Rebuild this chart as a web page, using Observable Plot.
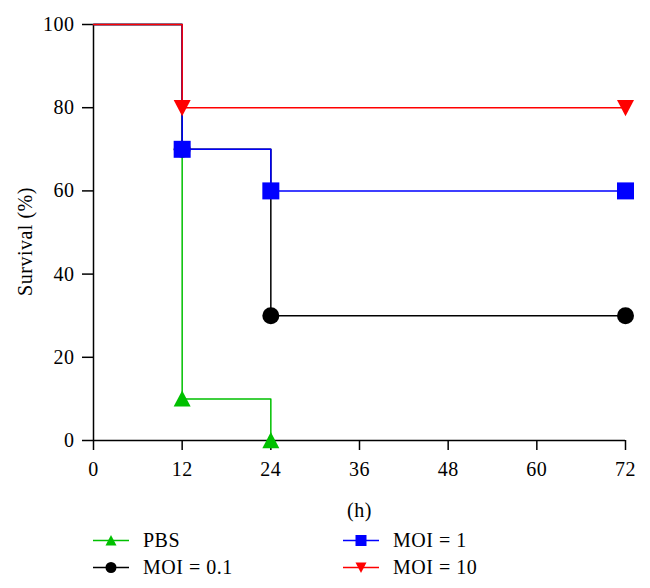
<!DOCTYPE html>
<html>
<head>
<meta charset="utf-8">
<script src="https://cdn.jsdelivr.net/npm/d3@7"></script>
<script src="https://cdn.jsdelivr.net/npm/@observablehq/plot@0.6"></script>
<style>
  html, body { margin: 0; padding: 0; background: #fff; }
  #chart { width: 650px; }
  #chart svg text { letter-spacing: 0.5px; }
  #legend { position: relative; width: 650px; height: 63px; font-family: "Liberation Serif", serif; font-size: 20px; letter-spacing: 0.5px; color: #000; }
  .item { position: absolute; height: 27px; display: flex; align-items: center; }
  .item svg { margin-right: 14px; }
</style>
</head>
<body>
<div id="chart"></div>
<div id="legend"></div>
<script>
// ---- data ----
const seriesNames = ["PBS", "MOI = 0.1", "MOI = 1", "MOI = 10"];
const seriesColors = ["#00c000", "#000000", "#0000ff", "#ff0000"];
const pbsTime = [0, 12, 24];
const pbsSurvival = [100, 10, 0];
const moi01Time = [0, 12, 24, 72];
const moi01Survival = [100, 70, 30, 30];
const moi1Time = [0, 12, 24, 72];
const moi1Survival = [100, 70, 60, 60];
const moi10Time = [0, 12, 72];
const moi10Survival = [100, 80, 80];
const xTicks = [0, 12, 24, 36, 48, 60, 72];
const yTicks = [0, 20, 40, 60, 80, 100];

// ---- custom symbols (size = pi r^2) ----
const rOf = size => Math.sqrt(size / Math.PI);
const symTriUp = { draw(c, size) { const r = rOf(size); c.moveTo(0, -r); c.lineTo(r, r * 0.9); c.lineTo(-r, r * 0.9); c.closePath(); } };
const symTriDown = { draw(c, size) { const r = rOf(size); c.moveTo(0, r); c.lineTo(r, -r * 0.9); c.lineTo(-r, -r * 0.9); c.closePath(); } };
const symSquare = { draw(c, size) { const r = rOf(size); c.rect(-r, -r, 2 * r, 2 * r); } };
const symCircle = { draw(c, size) { const r = rOf(size); c.moveTo(r, 0); c.arc(0, 0, r, 0, 2 * Math.PI); } };
const seriesSymbols = [symTriUp, symCircle, symSquare, symTriDown];

const toRows = (name, ts, ss) => ts.map((t, i) => ({ series: name, t, s: ss[i] }));
const rowsBySeries = [
  toRows(seriesNames[0], pbsTime, pbsSurvival),
  toRows(seriesNames[1], moi01Time, moi01Survival),
  toRows(seriesNames[2], moi1Time, moi1Survival),
  toRows(seriesNames[3], moi10Time, moi10Survival)
];

const marks = [
  Plot.ruleX([0], { y1: 0, y2: 100, stroke: "#000", strokeWidth: 1.5 }),
  Plot.ruleY([0], { x1: 0, x2: 72, stroke: "#000", strokeWidth: 1.5 }),
  Plot.axisX({ ticks: xTicks, tickSize: 10, tickPadding: 11, strokeWidth: 1.5, tickFormat: d => String(d), label: null }),
  Plot.axisY({ ticks: yTicks, tickSize: 11, tickPadding: 8, strokeWidth: 1.5, tickFormat: d => String(d), label: null }),
  Plot.text(["Survival (%)"], { frameAnchor: "left", textAnchor: "middle", rotate: -90, dx: -68, dy: 9, fontSize: 20 }),
  Plot.text(["(h)"], { frameAnchor: "bottom", dy: 70, lineAnchor: "middle", fontSize: 20 })
];
rowsBySeries.forEach((rows, i) => {
  marks.push(Plot.line(rows, { x: "t", y: "s", stroke: seriesColors[i], strokeWidth: 1.5, curve: "step-after" }));
  marks.push(Plot.dot(rows.filter(d => d.t > 0), { x: "t", y: "s", r: 8.5, fill: seriesColors[i], stroke: "none", symbol: () => seriesSymbols[i] }));
});

const chart = Plot.plot({
  width: 650,
  height: 525,
  marginLeft: 93,
  marginRight: 25,
  marginTop: 24,
  marginBottom: 85,
  style: { fontFamily: "Liberation Serif, serif", fontSize: "20px", color: "#000", background: "#fff" },
  x: { domain: [0, 72] },
  y: { domain: [0, 100] },
  marks
});
document.getElementById("chart").appendChild(chart);

// ---- legend ----
const legend = document.getElementById("legend");
const legendPos = [[93, 2], [93, 29], [343, 2], [343, 29]];
seriesNames.forEach((name, i) => {
  const div = document.createElement("div");
  div.className = "item";
  div.style.left = legendPos[i][0] + "px";
  div.style.top = legendPos[i][1] + "px";
  const s = d3.create("svg").attr("width", 36).attr("height", 27);
  s.append("line").attr("x1", 0).attr("x2", 36).attr("y1", 13.5).attr("y2", 13.5).attr("stroke", seriesColors[i]).attr("stroke-width", 1.5);
  s.append("path").attr("transform", "translate(18,13.5)").attr("fill", seriesColors[i])
    .attr("d", d3.symbol(seriesSymbols[i], Math.PI * 5.5 * 5.5)());
  div.appendChild(s.node());
  const span = document.createElement("span");
  span.textContent = name;
  div.appendChild(span);
  legend.appendChild(div);
});
</script>
</body>
</html>
